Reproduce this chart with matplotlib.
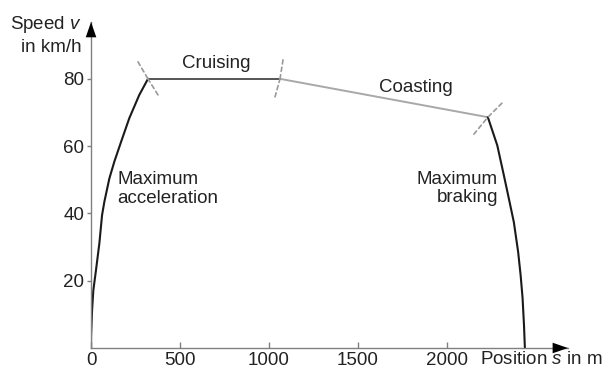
import matplotlib.pyplot as plt

plt.rcParams['font.family'] = ['Liberation Sans', 'DejaVu Sans']
plt.rcParams['mathtext.fontset'] = 'custom'
plt.rcParams['mathtext.it'] = 'Liberation Sans:italic'
plt.rcParams['mathtext.rm'] = 'Liberation Sans'

# speed profile of one run between two stations (position in m, speed in km/h)
accel_s = [0, 0, 6, 13, 28, 47, 62, 75, 103, 131, 169, 215, 271, 320]
accel_v = [0, 3.3, 11.3, 17.2, 23.2, 31.2, 39.5, 43.5, 50.4, 55.4, 61.3, 68.3, 75.2, 80]
cruise_s = [320, 1062]
cruise_v = [80, 80]
coast_s = [1062, 2230]
coast_v = [80, 68.6]
brake_s = [2230, 2283, 2320, 2348, 2376, 2400, 2414, 2425, 2433, 2438]
brake_v = [68.6, 60.2, 51.3, 44.4, 37.4, 28.6, 21.7, 14.9, 6.8, 0]

xticks = [0, 500, 1000, 1500, 2000]
yticks = [20, 40, 60, 80]

fs = 13.5
txt = '#222222'

fig = plt.figure(figsize=(6.13, 3.69), dpi=100)
ax = fig.add_axes([0.1485, 0.0569, 0.778, 0.8835])
ax.set_xlim(0, 2680)
ax.set_ylim(0, 96.9)

ax.plot(accel_s, accel_v, color='#1a1a1a', lw=1.5, solid_joinstyle='round')
ax.plot(cruise_s, cruise_v, color='#555555', lw=1.4)
ax.plot(coast_s, coast_v, color='#a8a8a8', lw=1.4)
ax.plot(brake_s, brake_v, color='#1a1a1a', lw=1.5, solid_joinstyle='round')

# short dashed marks where one phase hands over to the next
marks = [((cruise_s[0], cruise_v[0]), (-10, 17), (10, -16)),
         ((coast_s[0], coast_v[0]), (3, 19), (-5, -18)),
         ((brake_s[0], brake_v[0]), (14, 14), (-14, -17))]
for pt, a, b in marks:
    for off in (a, b):
        ax.annotate('', xy=pt, xytext=off, textcoords='offset pixels',
                    arrowprops=dict(arrowstyle='-', ls=(0, (2.5, 2)), color='#999999',
                                    lw=1.2, shrinkA=0, shrinkB=0))

for side in ('top', 'right'):
    ax.spines[side].set_visible(False)
for side in ('left', 'bottom'):
    ax.spines[side].set_color('#808080')
    ax.spines[side].set_linewidth(1.0)

# arrow heads on both axes
head = '-|>,head_length=1.1,head_width=0.38'
ax.annotate('', xy=(1, 0), xytext=(0.96, 0), xycoords='axes fraction',
            arrowprops=dict(arrowstyle=head, color='black', lw=0.01, shrinkA=0, shrinkB=0))
ax.annotate('', xy=(0, 1), xytext=(0, 0.94), xycoords='axes fraction',
            arrowprops=dict(arrowstyle=head, color='black', lw=0.01, shrinkA=0, shrinkB=0))

ax.set_xticks(xticks)
ax.set_yticks(yticks)
ax.tick_params(axis='x', direction='in', length=4, width=1, color='#808080',
               labelsize=fs, pad=3, labelcolor=txt)
ax.tick_params(axis='y', direction='out', length=3, width=1, color='#808080',
               labelsize=fs, pad=2, labelcolor=txt)

ax.text(-0.019, 0.991, 'Speed $\\it{v}$', transform=ax.transAxes, ha='right', va='center',
        fontsize=fs, color=txt)
ax.text(-0.019, 0.923, 'in km/h', transform=ax.transAxes, ha='right', va='center',
        fontsize=fs, color=txt)
ax.text(2185, -0.036, 'Position $\\it{s}$ in m', transform=ax.get_xaxis_transform(),
        ha='left', va='center', fontsize=fs, color=txt)

ax.text(702, 84.7, 'Cruising', ha='center', va='center', fontsize=fs, color=txt)
ax.text(1826, 77.3, 'Coasting', ha='center', va='center', fontsize=fs, color=txt)
ax.text(146, 47.3, 'Maximum\nacceleration', ha='left', va='center', fontsize=fs,
        color=txt, linespacing=1.1)
ax.text(2287, 47.5, 'Maximum\nbraking', ha='right', va='center', fontsize=fs,
        color=txt, linespacing=1.1, multialignment='right')

fig.savefig('out.png', dpi=100)
